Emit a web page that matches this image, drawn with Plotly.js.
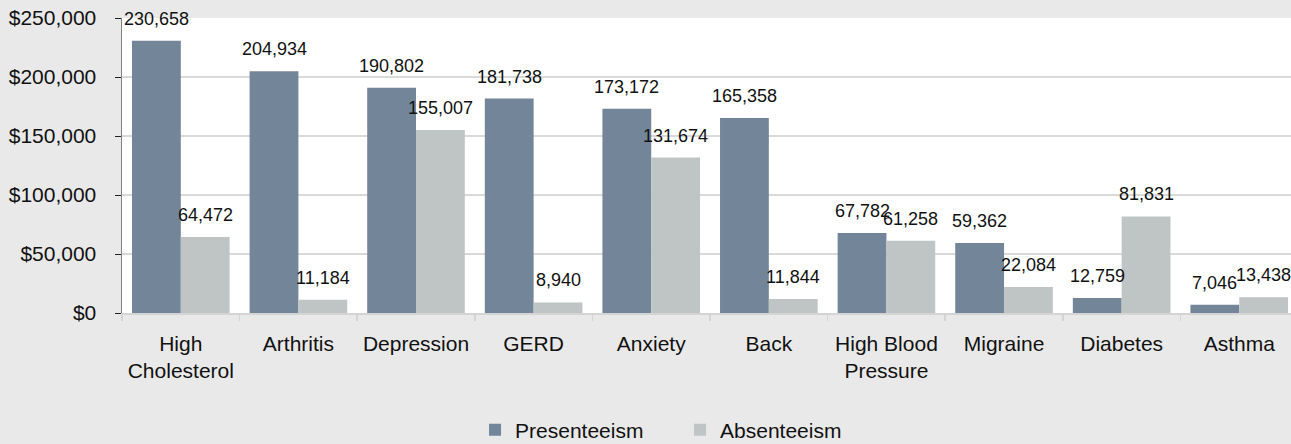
<!DOCTYPE html>
<html>
<head>
<meta charset="utf-8">
<script src="https://cdn.plot.ly/plotly-3.0.1.min.js"></script>
<style>
html,body{margin:0;padding:0;background:#e9e9e9;overflow:hidden;}
#chart{width:1291px;height:444px;}
</style>
</head>
<body>
<div id="chart"></div>
<script>
var categories = ["High<br>Cholesterol", "Arthritis", "Depression", "GERD", "Anxiety", "Back", "High Blood<br>Pressure", "Migraine", "Diabetes", "Asthma"];
var presenteeism = [230658, 204934, 190802, 181738, 173172, 165358, 67782, 59362, 12759, 7046];
var absenteeism = [64472, 11184, 155007, 8940, 131674, 11844, 61258, 22084, 81831, 13438];
var seriesNames = ["Presenteeism", "Absenteeism"];
var yTickVals = [0, 50000, 100000, 150000, 200000, 250000];
var yTickText = ["$0", "$50,000", "$100,000", "$150,000", "$200,000", "$250,000"];

var colPres = "#738598";
var colAbs = "#bfc5c5";
var fontFam = "Liberation Sans, Arial, sans-serif";

function fmt(v){ return v.toLocaleString("en-US"); }

var annotations = [];
categories.forEach(function(c, i){
  annotations.push({x: c, y: presenteeism[i], xref: "x", yref: "y", text: fmt(presenteeism[i]),
    showarrow: false, xshift: -24.4, yshift: 22, yanchor: "middle", xanchor: "center",
    font: {family: fontFam, size: 18, color: "#111"}});
  annotations.push({x: c, y: absenteeism[i], xref: "x", yref: "y", text: fmt(absenteeism[i]),
    showarrow: false, xshift: 24.4, yshift: 22, yanchor: "middle", xanchor: "center",
    font: {family: fontFam, size: 18, color: "#111"}});
});

var data = [
  {type: "bar", name: seriesNames[0], x: categories, y: presenteeism, marker: {color: colPres}, hoverinfo: "none"},
  {type: "bar", name: seriesNames[1], x: categories, y: absenteeism, marker: {color: colAbs}, hoverinfo: "none"}
];

var layout = {
  width: 1291, height: 444,
  paper_bgcolor: "#e9e9e9", plot_bgcolor: "#ffffff",
  margin: {l: 122, r: 0, t: 18, b: 131, pad: 0, autoexpand: false},
  barmode: "group", bargap: 0.17, bargroupgap: 0,
  font: {family: fontFam, size: 21, color: "#111"},
  showlegend: true,
  legend: {orientation: "h", x: 0.302, xanchor: "left", y: -0.397, yanchor: "middle",
    font: {family: fontFam, size: 21, color: "#111"}, bgcolor: "rgba(0,0,0,0)",
    traceorder: "normal", entrywidth: 160},
  xaxis: {type: "category", range: [-0.5, 9.44], showgrid: false, showline: true, linecolor: "#d4d4d4", linewidth: 1.5,
    ticks: "outside", tickson: "boundaries", ticklen: 6, tickcolor: "#d4d4d4", tickwidth: 1.5,
    ticklabelstandoff: 11, tickfont: {family: fontFam, size: 21, color: "#111"}, zeroline: false, fixedrange: true, automargin: false},
  yaxis: {range: [0, 250000], tickmode: "array", tickvals: yTickVals, ticktext: yTickText,
    showgrid: true, gridcolor: "#d9d9d9", gridwidth: 1.2, showline: true, linecolor: "#808080", linewidth: 1.5,
    ticks: "outside", ticklen: 6, tickcolor: "#222", tickwidth: 1, ticklabelstandoff: 14,
    tickfont: {family: fontFam, size: 21, color: "#111"}, zeroline: false, fixedrange: true, automargin: false},
  annotations: annotations
};

Plotly.newPlot("chart", data, layout, {displayModeBar: false, staticPlot: true});
</script>
</body>
</html>
